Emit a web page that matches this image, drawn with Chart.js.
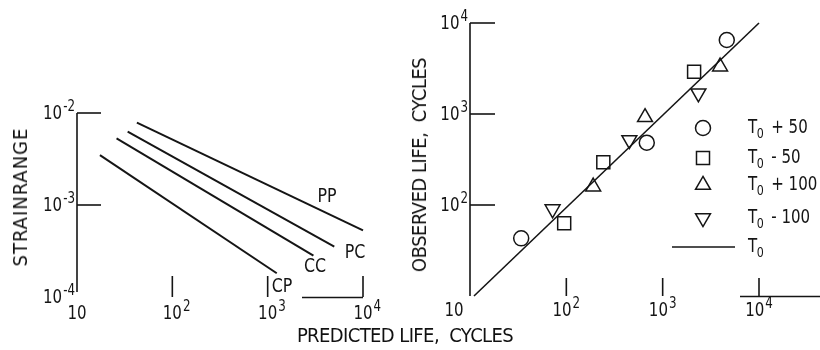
<!DOCTYPE html>
<html><head><meta charset="utf-8">
<script src="https://cdn.jsdelivr.net/npm/chart.js@4/dist/chart.umd.min.js"></script>
<style>
html,body{margin:0;padding:0;background:#fff;}
#wrap{position:relative;width:820px;height:350px;overflow:hidden;font-family:'Liberation Sans Narrow','DejaVu Sans Condensed','Liberation Sans',sans-serif;color:#111;}
.box{position:absolute;top:0;height:350px;}
#leftBox{left:0;width:400px;}
#rightBox{left:400px;width:420px;}
.lbl{position:absolute;font-size:20px;white-space:nowrap;line-height:1;}
.rot{transform:translate(-50%,-50%) rotate(-90deg);}
.ctr{transform:translate(-50%,-50%);}
</style></head>
<body><div id="wrap">
<div class="box" id="leftBox"><canvas id="left"></canvas></div>
<div class="box" id="rightBox"><canvas id="right"></canvas></div>
<div class="lbl rot" style="left:20px;top:197px;letter-spacing:1px">STRAINRANGE</div>
<div class="lbl rot" style="left:419px;top:165px;letter-spacing:-0.5px">OBSERVED LIFE,&nbsp; CYCLES</div>
<div class="lbl ctr" style="left:405px;top:335px;letter-spacing:-0.6px">PREDICTED LIFE,&nbsp; CYCLES</div>
</div>
<script>
const INK = '#151515';
const FONT = "'Liberation Sans Narrow','DejaVu Sans Condensed','Liberation Sans',sans-serif";
const NARROW = 0.88;

// ---- Left panel: strainrange vs predicted life ----
const lifeTicks = [10, 100, 1000, 10000];
const lifeTickExp = ['', '2', '3', '4'];
const strainTicks = [1e-2, 1e-3, 1e-4];
const strainTickExp = ['-2', '-3', '-4'];
const lineNames = ['PP', 'PC', 'CC', 'CP'];
const ppLife = [42.5, 10000];  const ppStrain = [0.00785, 0.00053];
const pcLife = [34, 5000];     const pcStrain = [0.00627, 0.000352];
const ccLife = [26, 3020];     const ccStrain = [0.00531, 0.000281];
const cpLife = [17.4, 1245];   const cpStrain = [0.00349, 0.000181];
const labelLife = [4200, 8260, 3140, 1415];
const labelStrain = [0.00122, 0.0003, 0.000212, 0.000129];

// ---- Right panel: observed vs predicted life ----
const observedTicks = [100, 1000, 10000];
const observedTickExp = ['2', '3', '4'];
const seriesSuffix = ['+ 50', '- 50', '+ 100', '- 100', ''];
const p50Pred = [34, 684, 4630];    const p50Obs = [43, 484, 6500];
const m50Pred = [95, 242, 2120];    const m50Obs = [63, 295, 2920];
const p100Pred = [190, 656, 3945];  const p100Obs = [159, 920, 3310];
const m100Pred = [72, 451, 2350];   const m100Obs = [90, 518, 1690];
const fitPred = [11, 10000];        const fitObs = [10, 10000];

const zip = (xs, ys) => xs.map((v, i) => ({x: v, y: ys[i]}));

function txtW(ctx, size, s) { ctx.font = size + 'px ' + FONT; return ctx.measureText(s).width * NARROW; }
function txt(ctx, size, s, x, y) {
  ctx.font = size + 'px ' + FONT;
  ctx.save(); ctx.translate(x, y); ctx.scale(NARROW, 1);
  ctx.textAlign = 'left'; ctx.textBaseline = 'middle'; ctx.fillStyle = INK;
  ctx.fillText(s, 0, 0); ctx.restore();
}

function powLabel(ctx, base, exp, x, y, align) {
  const wb = txtW(ctx, 19, base);
  const we = exp ? txtW(ctx, 15, exp) + 1 : 0;
  let sx;
  if (align === 'right') sx = x - wb - we;
  else if (align === 'center') sx = x - (wb + we) / 2;
  else sx = x - wb / 2;
  txt(ctx, 19, base, sx, y);
  if (exp) txt(ctx, 15, exp, sx + wb + 1, y - 7);
}

function marker(ctx, style, r, rot, x, y) {
  ctx.beginPath();
  if (style === 'circle') ctx.arc(x, y, r, 0, Math.PI * 2);
  else if (style === 'rect') { const s = r * Math.SQRT1_2; ctx.rect(x - s, y - s, 2 * s, 2 * s); }
  else {
    let a = rot * Math.PI / 180;
    ctx.moveTo(x + Math.sin(a) * r, y - Math.cos(a) * r);
    for (let k = 0; k < 2; k++) { a += 2 * Math.PI / 3; ctx.lineTo(x + Math.sin(a) * r, y - Math.cos(a) * r); }
    ctx.closePath();
  }
  ctx.stroke();
}

const axisPlugin = {
  id: 'sketchAxes',
  afterDraw(chart, args, o) {
    const {ctx, chartArea: ca, scales: {x, y}} = chart;
    ctx.save();
    ctx.strokeStyle = INK; ctx.lineWidth = 1.6; ctx.lineCap = 'butt';
    const ax = ca.left, by = ca.bottom;
    ctx.beginPath(); ctx.moveTo(ax, ca.top); ctx.lineTo(ax, by - o.axisGap); ctx.stroke();
    o.yMarks.forEach(v => { const py = y.getPixelForValue(v);
      ctx.beginPath(); ctx.moveTo(ax, py); ctx.lineTo(ax + o.yMarkLen, py); ctx.stroke(); });
    o.xMarks.forEach(v => { const px = x.getPixelForValue(v);
      ctx.beginPath(); ctx.moveTo(px, by - o.xMarkLen); ctx.lineTo(px, by); ctx.stroke(); });
    const xe = x.getPixelForValue(o.segRef);
    ctx.beginPath(); ctx.moveTo(xe + o.segFrom, by + 0.5); ctx.lineTo(o.segTo === null ? chart.width : xe + o.segTo, by + 0.5); ctx.stroke();
    o.yTicks.forEach((v, i) => powLabel(ctx, '10', o.yExp[i], ax - 2, y.getPixelForValue(v) + 1, 'right'));
    o.xTicks.forEach((v, i) => {
      const px = x.getPixelForValue(v) + (i === 0 ? o.firstShift : 0);
      powLabel(ctx, '10', o.xExp[i], px, by + o.xLabelDy, i === 0 ? 'center' : o.xAlign);
    });
    ctx.restore();
  }
};

const lineLabelPlugin = {
  id: 'lineLabels',
  afterDraw(chart) {
    const {ctx, scales: {x, y}} = chart;
    lineNames.forEach((n, i) => {
      const w = txtW(ctx, 20, n);
      txt(ctx, 20, n, x.getPixelForValue(labelLife[i]) - w / 2, y.getPixelForValue(labelStrain[i]));
    });
  }
};

const styles = [
  {s: 'circle', r: 7.5, rot: 0},
  {s: 'rect', r: 9.2, rot: 0},
  {s: 'triangle', r: 8.6, rot: 0},
  {s: 'triangle', r: 8.6, rot: 180}
];

const legendPlugin = {
  id: 'sketchLegend',
  afterDraw(chart) {
    const ctx = chart.ctx;
    ctx.save(); ctx.strokeStyle = INK; ctx.lineWidth = 1.5;
    const mx = 303, ys = [128, 158, 185, 218, 247], tx = 348;
    styles.forEach((st, i) => marker(ctx, st.s, st.r, st.rot, mx, ys[i]));
    ctx.beginPath(); ctx.moveTo(272, ys[4]); ctx.lineTo(335, ys[4]); ctx.stroke();
    seriesSuffix.forEach((suf, i) => {
      txt(ctx, 19, 'T', tx, ys[i]);
      const wt = txtW(ctx, 19, 'T');
      txt(ctx, 14, '0', tx + wt - 0.5, ys[i] + 6);
      const w0 = txtW(ctx, 14, '0');
      if (suf) txt(ctx, 19, suf, tx + wt + w0 + 7, ys[i]);
    });
    ctx.restore();
  }
};

new Chart(document.getElementById('left'), {
  type: 'line',
  data: {datasets: [
    {label: 'PP', data: zip(ppLife, ppStrain)},
    {label: 'PC', data: zip(pcLife, pcStrain)},
    {label: 'CC', data: zip(ccLife, ccStrain)},
    {label: 'CP', data: zip(cpLife, cpStrain)}
  ].map(d => Object.assign(d, {borderColor: INK, borderWidth: 2, pointRadius: 0, fill: false, tension: 0, clip: false}))},
  options: {
    responsive: true, maintainAspectRatio: false, animation: false, events: [],
    layout: {padding: {left: 77, right: 37, top: 113, bottom: 53}},
    plugins: {legend: {display: false}, tooltip: {enabled: false},
      sketchAxes: {axisGap: 5, yMarks: [1e-2, 1e-3], yMarkLen: 24, xMarks: [100, 1000, 10000], xMarkLen: 21,
        segRef: 10000, segFrom: -61, segTo: 0,
        yTicks: strainTicks, yExp: strainTickExp, xTicks: lifeTicks, xExp: lifeTickExp,
        xLabelDy: 17, xAlign: 'base', firstShift: 0}},
    scales: {
      x: {type: 'logarithmic', min: 10, max: 10000, display: false},
      y: {type: 'logarithmic', min: 1e-4, max: 1e-2, display: false}
    }
  },
  plugins: [axisPlugin, lineLabelPlugin]
});

const scatterSets = [[p50Pred, p50Obs], [m50Pred, m50Obs], [p100Pred, p100Obs], [m100Pred, m100Obs]];
new Chart(document.getElementById('right'), {
  type: 'scatter',
  data: {datasets: scatterSets.map((pr, i) => ({
      label: 'T0 ' + seriesSuffix[i], data: zip(pr[0], pr[1]),
      pointStyle: styles[i].s, pointRadius: styles[i].r, pointRotation: styles[i].rot,
      pointBorderWidth: 1.5, pointBorderColor: INK, pointBackgroundColor: 'rgba(0,0,0,0)', showLine: false, clip: false
    })).concat([{label: 'T0', data: zip(fitPred, fitObs), showLine: true, borderColor: INK, borderWidth: 1.6, pointRadius: 0, clip: false}])},
  options: {
    responsive: true, maintainAspectRatio: false, animation: false, events: [],
    layout: {padding: {left: 70, right: 61, top: 23, bottom: 54}},
    plugins: {legend: {display: false}, tooltip: {enabled: false},
      sketchAxes: {axisGap: 0, yMarks: [1e4, 1e3, 1e2], yMarkLen: 25, xMarks: [100, 1000, 10000], xMarkLen: 18,
        segRef: 10000, segFrom: -19, segTo: null,
        yTicks: observedTicks, yExp: observedTickExp, xTicks: lifeTicks, xExp: lifeTickExp,
        xLabelDy: 15, xAlign: 'center', firstShift: -16}},
    scales: {
      x: {type: 'logarithmic', min: 10, max: 10000, display: false},
      y: {type: 'logarithmic', min: 10, max: 10000, display: false}
    }
  },
  plugins: [axisPlugin, legendPlugin]
});
</script>
</body></html>
